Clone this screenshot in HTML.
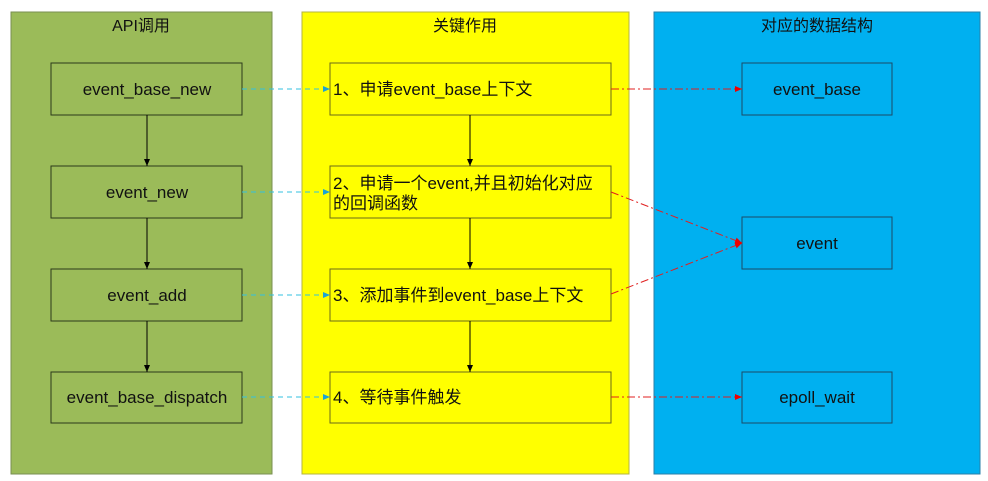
<!DOCTYPE html>
<html><head><meta charset="utf-8"><style>
html,body{margin:0;padding:0;background:#fff;width:988px;height:481px;overflow:hidden}
text{font-family:"Liberation Sans","Noto Sans CJK SC",sans-serif;font-size:17px;fill:#111}
text.t{font-size:16px}
</style></head><body>
<svg width="988" height="481" viewBox="0 0 988 481" xmlns="http://www.w3.org/2000/svg">
<defs>
<marker id="ab" markerWidth="8" markerHeight="8" refX="7" refY="4" orient="auto" markerUnits="userSpaceOnUse"><path d="M0,1 L7,4 L0,7z" fill="#000"/></marker>
<marker id="ac" markerWidth="8" markerHeight="8" refX="7" refY="4" orient="auto" markerUnits="userSpaceOnUse"><path d="M0,1 L7,4 L0,7z" fill="#1aa3d6"/></marker>
<marker id="ar" markerWidth="8" markerHeight="8" refX="7" refY="4" orient="auto" markerUnits="userSpaceOnUse"><path d="M0,1 L7,4 L0,7z" fill="#e00"/></marker>
</defs>
<rect x="11" y="12" width="261" height="462" fill="#9bbb59" stroke="#7a8f52" stroke-width="1"/>
<rect x="302" y="12" width="327" height="462" fill="#ffff00" stroke="#b5b540" stroke-width="1"/>
<rect x="654" y="12" width="326" height="462" fill="#00b0f0" stroke="#2a7fa8" stroke-width="1"/>
<text class="t" x="141" y="31" text-anchor="middle">API调用</text>
<text class="t" x="465" y="31" text-anchor="middle">关键作用</text>
<text class="t" x="817" y="31" text-anchor="middle">对应的数据结构</text>
<g fill="none" stroke="#2b3a1a" stroke-width="1">
<rect x="51" y="63" width="191" height="52"/>
<rect x="51" y="166" width="191" height="52"/>
<rect x="51" y="269" width="191" height="52"/>
<rect x="51" y="372" width="191" height="51"/>
</g>
<g fill="none" stroke="#6b6b1a" stroke-width="1">
<rect x="330" y="63" width="281" height="52"/>
<rect x="330" y="166" width="281" height="52"/>
<rect x="330" y="269" width="281" height="52"/>
<rect x="330" y="372" width="281" height="51"/>
</g>
<g fill="none" stroke="#1d4a66" stroke-width="1">
<rect x="742" y="63" width="150" height="52"/>
<rect x="742" y="217" width="150" height="52"/>
<rect x="742" y="372" width="150" height="51"/>
</g>
<g text-anchor="middle">
<text x="147" y="95">event_base_new</text>
<text x="147" y="198">event_new</text>
<text x="147" y="301">event_add</text>
<text x="147" y="403">event_base_dispatch</text>
<text x="817" y="95">event_base</text>
<text x="817" y="249">event</text>
<text x="817" y="403">epoll_wait</text>
</g>
<text x="333" y="95">1、申请event_base上下文</text>
<text x="333" y="189">2、申请一个event,并且初始化对应</text>
<text x="333" y="209">的回调函数</text>
<text x="333" y="301">3、添加事件到event_base上下文</text>
<text x="333" y="403">4、等待事件触发</text>
<g stroke="#000" stroke-width="1" marker-end="url(#ab)">
<line x1="147" y1="115" x2="147" y2="166"/>
<line x1="147" y1="218" x2="147" y2="269"/>
<line x1="147" y1="321" x2="147" y2="372"/>
<line x1="470" y1="115" x2="470" y2="166"/>
<line x1="470" y1="218" x2="470" y2="269"/>
<line x1="470" y1="321" x2="470" y2="372"/>
</g>
<g stroke="#33c0e0" stroke-width="1" stroke-dasharray="5,4" marker-end="url(#ac)">
<line x1="242" y1="89" x2="330" y2="89"/>
<line x1="242" y1="192" x2="330" y2="192"/>
<line x1="242" y1="295" x2="330" y2="295"/>
<line x1="242" y1="397" x2="330" y2="397"/>
</g>
<g stroke="#e02020" stroke-width="1" stroke-dasharray="8,3,2,3" marker-end="url(#ar)">
<line x1="611" y1="89" x2="742" y2="89"/>
<line x1="611" y1="192" x2="742" y2="243"/>
<line x1="611" y1="294" x2="742" y2="243"/>
<line x1="611" y1="397" x2="742" y2="397"/>
</g>
</svg>
</body></html>
